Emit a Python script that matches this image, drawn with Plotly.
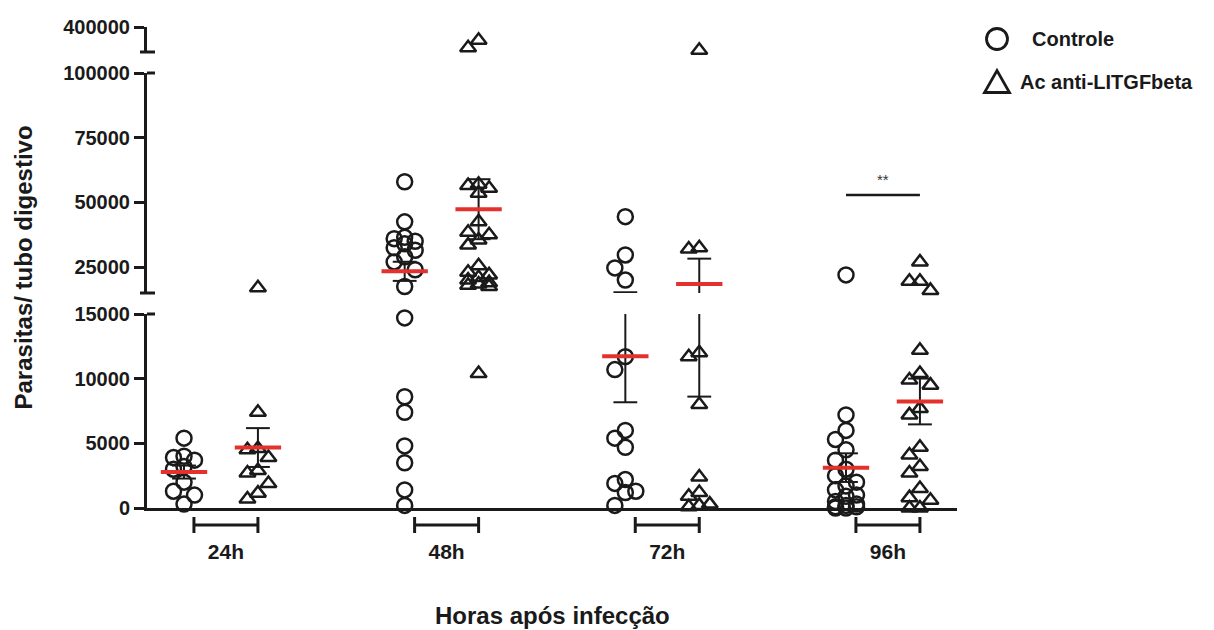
import numpy as np
import plotly.graph_objects as go

# ---------------- data ----------------
categories = ["24h", "48h", "72h", "96h"]
series_names = ["Controle", "Ac anti-LITGFbeta"]

ctrl_24h = [5400, 4000, 3900, 3700, 3200, 3000, 2000, 1300, 1000, 300]
ctrl_48h = [58000, 42500, 36500, 36000, 35000, 34000, 32500, 31500, 29000, 27000,
            24000, 17500, 14700, 8600, 7400, 4800, 3500, 1400, 200]
ctrl_72h = [44500, 29700, 24700, 20000, 11700, 10700, 6000, 5400, 4700, 2200,
            1900, 1300, 1200, 200]
ctrl_96h = [22000, 7200, 6000, 5300, 4500, 3700, 3000, 2500, 2000, 1700, 1400,
            1000, 900, 500, 300, 200, 100, 100, 0, 0]

anti_24h = [17000, 7400, 4600, 4500, 3900, 2900, 2700, 1900, 1150, 700]
anti_48h = [240000, 150000, 57000, 56500, 55500, 53500, 42500, 38500, 37500, 35500,
            33500, 25500, 23000, 22000, 21000, 20000, 19000, 18500, 18000, 17500, 10400]
anti_72h = [120000, 32500, 32000, 12000, 11700, 8000, 2400, 1200, 900, 300, 200, 100]
anti_96h = [27000, 19500, 19500, 16000, 12200, 10400, 9900, 9500, 7700, 7200, 4700,
            4100, 3200, 2700, 1500, 800, 600, 0, 0]

controle = [ctrl_24h, ctrl_48h, ctrl_72h, ctrl_96h]
anti = [anti_24h, anti_48h, anti_72h, anti_96h]

# broken y axis segments and their tick values
seg_bounds = [(0, 15000), (15000, 100000), (100000, 400000)]
seg_ticks = [[0, 5000, 10000, 15000], [25000, 50000, 75000, 100000], [400000]]
sig_value = 52860  # height of the ** bar

# ---------------- layout geometry ----------------
W, H = 1214, 630
ML, MR, MT, MB = 147, 257, 27, 122
PW, PH = W - ML - MR, H - MT - MB
seg_domains = [[0.0, 194 / PH], [215 / PH, 435 / PH], [456 / PH, 1.0]]
axis_ids = ["y", "y2", "y3"]
XR = [-0.1677, 3.503]
px_per_x = PW / (XR[1] - XR[0])
GROUP_OFF = 0.335
LANE = 10.5 / px_per_x
INK = "#1a1a1a"
RED = "#e3312d"
FONT = "Liberation Sans, Arial, sans-serif"


def seg_of(v):
    for k, (lo, hi) in enumerate(seg_bounds):
        if v <= hi:
            return k
    return len(seg_bounds) - 1


def to_px(v):
    k = seg_of(v)
    lo, hi = seg_bounds[k]
    d0, d1 = seg_domains[k]
    return MT + PH * (1 - (d0 + (v - lo) / (hi - lo) * (d1 - d0)))


def swarm(vals):
    """simple column-scatter lanes: centre, left, right"""
    order = sorted(range(len(vals)), key=lambda i: -vals[i])
    placed = {0: [], -1: [], 1: []}
    lanes = [0] * len(vals)
    for i in order:
        p = to_px(vals[i])
        best, bestd = 0, -1
        for ln in (0, -1, 1):
            d = min([abs(p - q) for q in placed[ln]] + [1e9])
            if d >= 13:
                best = ln
                break
            if d > bestd:
                best, bestd = ln, d
        placed[best].append(p)
        lanes[i] = best
    return lanes


fig = go.Figure()
symbols = ["circle-open", "triangle-up-open"]
sizes = [15, 14]

for s, data in enumerate([controle, anti]):
    for k in range(3):
        xs, ys = [], []
        for c, vals in enumerate(data):
            lanes = swarm(vals)
            for v, ln in zip(vals, lanes):
                if seg_of(v) == k:
                    xs.append(c + s * GROUP_OFF + ln * LANE)
                    ys.append(v)
        fig.add_trace(go.Scatter(
            x=xs, y=ys, yaxis=axis_ids[k], mode="markers", cliponaxis=False,
            name=series_names[s], legendgroup=series_names[s], showlegend=False,
            marker=dict(symbol=symbols[s], size=sizes[s], color=INK,
                        line=dict(width=2.5, color=INK)),
            hoverinfo="skip"))

# error bars (mean +/- SEM) and mean lines
CAP = 0.054
MEANW = 0.105
err = {k: ([], []) for k in range(3)}
means = {k: ([], []) for k in range(3)}
for s, data in enumerate([controle, anti]):
    for c, vals in enumerate(data):
        a = np.array(vals, dtype=float)
        m = a.mean()
        sem = a.std(ddof=1) / np.sqrt(len(a))
        x = c + s * GROUP_OFF
        lo_v, hi_v = m - sem, m + sem
        for k, (lo, hi) in enumerate(seg_bounds):
            s0, s1 = max(lo_v, lo), min(hi_v, hi)
            if s0 < s1:
                err[k][0].extend([x, x, None])
                err[k][1].extend([s0, s1, None])
        for v in (lo_v, hi_v):
            k = seg_of(v)
            err[k][0].extend([x - CAP, x + CAP, None])
            err[k][1].extend([v, v, None])
        k = seg_of(m)
        means[k][0].extend([x - MEANW, x + MEANW, None])
        means[k][1].extend([m, m, None])

for k in range(3):
    fig.add_trace(go.Scatter(x=err[k][0], y=err[k][1], yaxis=axis_ids[k], mode="lines",
                             line=dict(color=INK, width=2), showlegend=False,
                             cliponaxis=False, hoverinfo="skip"))
for k in range(3):
    fig.add_trace(go.Scatter(x=means[k][0], y=means[k][1], yaxis=axis_ids[k], mode="lines",
                             line=dict(color=RED, width=4), showlegend=False,
                             cliponaxis=False, hoverinfo="skip"))

# significance bar 96h
fig.add_trace(go.Scatter(x=[3, 3 + GROUP_OFF], y=[sig_value, sig_value], yaxis="y2",
                         mode="lines", line=dict(color=INK, width=2.5),
                         showlegend=False, hoverinfo="skip"))
fig.add_annotation(x=3 + GROUP_OFF / 2, y=sig_value, yref="y2", xref="x", text="**",
                   showarrow=False, yshift=16, font=dict(family=FONT, size=15, color="#333"))

# group brackets below the x axis (paper y so they are not clipped)
shapes = []
for c in range(len(categories)):
    x0, x1 = c + 0.045, c + GROUP_OFF
    for xa, xb, ya, yb in [(x0, x1, -17, -17), (x0, x0, -9, -25), (x1, x1, -9, -25)]:
        shapes.append(dict(type="line", xref="x", yref="paper", ysizemode="pixel", yanchor=0,
                           x0=xa, x1=xb, y0=ya, y1=yb, line=dict(color=INK, width=3)))


# axis break caps (paper coords at the segment edges)
def cap(ypaper, left, right):
    return dict(type="line", xref="paper", yref="paper", xsizemode="pixel", xanchor=0,
                x0=-left, x1=right, y0=ypaper, y1=ypaper, line=dict(color=INK, width=3))


shapes += [cap(seg_domains[0][1], 0, 8), cap(seg_domains[1][0], 7, 8),
           cap(seg_domains[1][1], 0, 8), cap(seg_domains[2][0], 7, 8)]


# legend (drawn as key symbols + labels at the right of the plot)
def px_x(p):
    return (p - ML) / PW


def px_y(p):
    return (MT + PH - p) / PH


leg_rows = [(39, 1030), (82, 1018)]   # (row centre y, label left x) in pixels
LEG_SYM_X = 997
shapes.append(dict(type="circle", xref="paper", yref="paper", xsizemode="pixel",
                   ysizemode="pixel", xanchor=px_x(LEG_SYM_X), yanchor=px_y(leg_rows[0][0]),
                   x0=-10.5, x1=10.5, y0=-10.5, y1=10.5, line=dict(color=INK, width=2.8)))
shapes.append(dict(type="path", xref="paper", yref="paper", xsizemode="pixel",
                   ysizemode="pixel", xanchor=px_x(LEG_SYM_X), yanchor=px_y(leg_rows[1][0]),
                   path="M -12.5,-10.5 L 12.5,-10.5 L 0,11.5 Z", line=dict(color=INK, width=2.8)))
for (ry, lx), name in zip(leg_rows, series_names):
    fig.add_annotation(xref="paper", yref="paper", x=px_x(lx), y=px_y(ry), text=name,
                       showarrow=False, xanchor="left", yanchor="middle",
                       font=dict(family=FONT, size=20, color=INK, weight="bold"))

tickfont = dict(family=FONT, size=20, color=INK, weight="bold")
yax_common = dict(showline=True, linewidth=3, linecolor=INK, ticks="outside", ticklen=10,
                  tickwidth=3, tickcolor=INK, showgrid=False, zeroline=False,
                  tickformat="d", tickfont=tickfont, anchor="x", fixedrange=True)

layout_axes = {}
for k in range(3):
    name = "yaxis" if k == 0 else f"yaxis{k + 1}"
    layout_axes[name] = dict(yax_common, domain=seg_domains[k], range=list(seg_bounds[k]),
                             tickvals=seg_ticks[k])

fig.update_layout(
    width=W, height=H, margin=dict(l=ML, r=MR, t=MT, b=MB, autoexpand=False),
    paper_bgcolor="white", plot_bgcolor="white",
    xaxis=dict(range=XR, showline=True, linewidth=3, linecolor=INK, showgrid=False,
               zeroline=False, ticks="", tickvals=[c + 0.19 for c in range(len(categories))],
               ticktext=categories, ticklabelstandoff=23, anchor="y",
               tickfont=dict(family=FONT, size=21, color=INK, weight="bold")),
    shapes=shapes,
    showlegend=False,
    **layout_axes,
)

fig.add_annotation(xref="paper", yref="paper", x=px_x(23), y=0.5, text="Parasitas/ tubo digestivo",
                   textangle=-90, showarrow=False, xanchor="center", yanchor="middle",
                   font=dict(family=FONT, size=24, color=INK, weight="bold"))
fig.add_annotation(xref="paper", yref="paper", x=0.5, y=px_y(615),
                   text="Horas após infecção", showarrow=False, xanchor="center",
                   yanchor="middle", font=dict(family=FONT, size=24, color=INK, weight="bold"))

fig.write_html("out.html")
